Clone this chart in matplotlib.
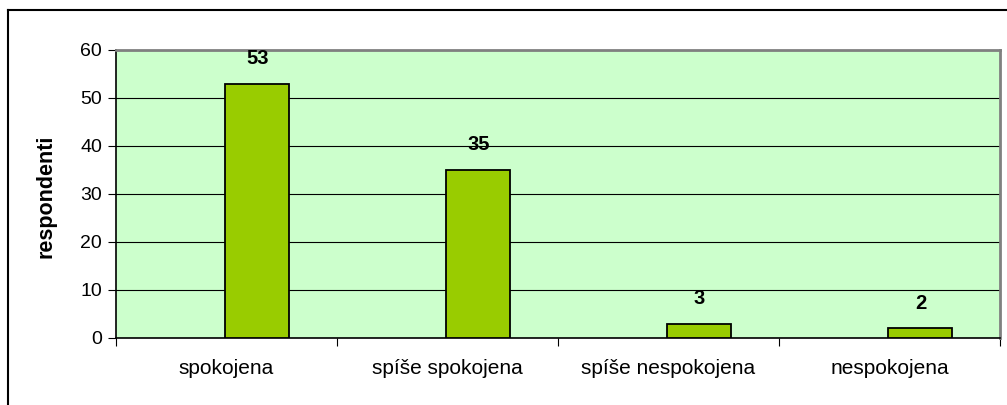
import matplotlib
matplotlib.use("Agg")
import matplotlib.pyplot as plt
import numpy as np
from matplotlib.lines import Line2D

categories = ["spokojena", "spíše spokojena", "spíše nespokojena", "nespokojena"]
values = [53, 35, 3, 2]
yticks = [0, 10, 20, 30, 40, 50, 60]

plt.rcParams['font.family'] = ['Liberation Sans', 'DejaVu Sans']

fig = plt.figure(figsize=(10.07, 4.05), dpi=100)
W, H = 1007, 405
ax = fig.add_axes([116 / W, 1 - 338 / H, (1000 - 116) / W, (338 - 50) / H])
ax.set_facecolor('#CCFFCC')

x = np.arange(len(categories))
offset = 0.14
ax.bar(x + offset, values, width=0.29, color='#99CC00', edgecolor='black', linewidth=1.3, zorder=3)

for xi, v in zip(x, values):
    ax.annotate(str(v), (xi + offset, v), xytext=(0, 18), textcoords='offset points',
                ha='center', va='center', fontsize=14.5, fontweight='bold', zorder=4)

ax.set_xlim(-0.5, len(categories) - 0.5)
ax.set_ylim(0, 60)
ax.set_yticks(yticks)
ax.set_yticklabels([str(t) for t in yticks], fontsize=14)
ax.yaxis.grid(True, color='black', linewidth=0.8, zorder=1)
ax.set_axisbelow(True)

ax.set_xticks(np.arange(len(categories) + 1) - 0.5)
ax.set_xticklabels([])
ax.set_xticks(x, minor=True)
ax.set_xticklabels(categories, minor=True, fontsize=15)
ax.tick_params(axis='x', which='minor', length=0, pad=15)
ax.tick_params(axis='x', which='major', length=6, direction='out', color='black')
ax.tick_params(axis='y', length=6, direction='out', color='black', pad=4)

ax.spines['left'].set_color('black')
ax.spines['bottom'].set_color('black')
ax.spines['top'].set_color('#808080')
ax.spines['right'].set_color('#808080')
for s in ax.spines.values():
    s.set_linewidth(1.2)
ax.spines['top'].set_linewidth(2)
ax.spines['right'].set_linewidth(2)

ax.set_ylabel('respondenti', fontsize=15.5, fontweight='bold')
ax.yaxis.set_label_coords((57 - 116) / (1000 - 116), (338 - 196) / (338 - 50))

fig.lines.append(Line2D([8 / W, 1.0], [1 - 10 / H, 1 - 10 / H], transform=fig.transFigure,
                        color='black', linewidth=1.5))
fig.lines.append(Line2D([8 / W, 8 / W], [0.0, 1 - 10 / H], transform=fig.transFigure,
                        color='black', linewidth=1.5))

fig.savefig('out.png', dpi=100)
